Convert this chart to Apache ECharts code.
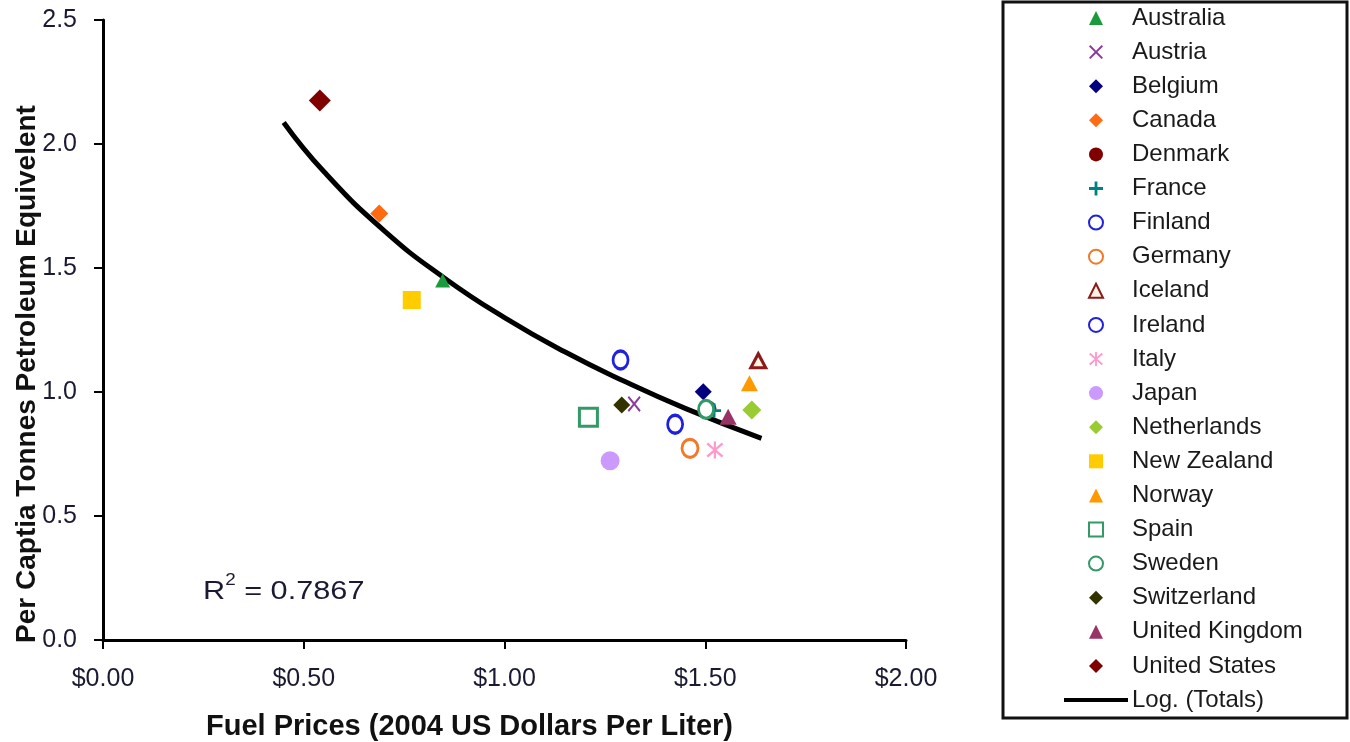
<!DOCTYPE html>
<html>
<head>
<meta charset="utf-8">
<title>Fuel prices vs consumption</title>
<script src="https://cdn.jsdelivr.net/npm/echarts@6/dist/echarts.min.js"></script>
<style>
  html, body { margin: 0; padding: 0; background: #fff; }
  #main { width: 1350px; height: 742px; }
</style>
</head>
<body>
<div id="main"></div>
<script>
  // countries in legend order
  var countries = ['Australia', 'Austria', 'Belgium', 'Canada', 'Denmark', 'France', 'Finland',
    'Germany', 'Iceland', 'Ireland', 'Italy', 'Japan', 'Netherlands', 'New Zealand', 'Norway',
    'Spain', 'Sweden', 'Switzerland', 'United Kingdom', 'United States'];
  // fuel price, 2004 US dollars per liter
  var prices = [0.846, 1.323, 1.495, 0.688, 1.509, 1.522, 1.425,
    1.462, 1.632, 1.289, 1.524, 1.263, 1.616, 0.769, 1.610,
    1.209, 1.502, 1.292, 1.557, 0.540];
  // per capita tonnes petroleum equivalent
  var consumption = [1.45, 0.952, 1.001, 1.720, 0.934, 0.925, 0.870,
    0.773, 1.126, 1.129, 0.766, 0.723, 0.927, 1.371, 1.035,
    0.898, 0.930, 0.948, 0.900, 2.175];
  // logarithmic trend line "Log. (Totals)"
  var trendX = [0.45, 0.55, 0.70, 0.85, 1.00, 1.15, 1.30, 1.45, 1.64];
  var trendY = [2.087, 1.889, 1.651, 1.460, 1.300, 1.162, 1.042, 0.934, 0.813];
  var xTicks = [0, 0.5, 1, 1.5, 2];
  var yTicks = [0, 0.5, 1, 1.5, 2, 2.5];

  // path symbols so the legend keeps their shape
  var tri = 'path://M5,0 L10,10 L0,10 Z';
  var dia = 'path://M5,0 L10,5 L5,10 L0,5 Z';
  var sq = 'path://M0,0 H10 V10 H0 Z';
  var cross = 'path://M0,1 L1,0 L5,4 L9,0 L10,1 L6,5 L10,9 L9,10 L5,6 L1,10 L0,9 L4,5 Z';
  var plus = 'path://M4,0 H6 V4 H10 V6 H6 V10 H4 V6 H0 V4 H4 Z';
  var star = 'path://M0,1.6 L1,0.6 L5,4.2 L9,0.6 L10,1.6 L6,5 L10,8.4 L9,9.4 L5,5.8 L1,9.4 L0,8.4 L4,5 Z M4.35,0 H5.65 V10 H4.35 Z';
  var bar = 'path://M0,0 H64 V4 H0 Z';

  // marker look per country
  var looks = {
    'Australia':      { symbol: tri, size: [15, 14], color: '#1a9a3a' },
    'Austria':        { symbol: cross, size: [13, 16], color: '#8e3a9e' },
    'Belgium':        { symbol: dia, size: 17, color: '#000080' },
    'Canada':         { symbol: dia, size: 18, color: '#ff6a13' },
    'Denmark':        { symbol: 'circle', size: 15, color: '#800000' },
    'France':         { symbol: plus, size: 14, color: '#008080' },
    'Finland':        { symbol: 'circle', size: [15, 18], color: '#fff', border: '#1f1fe0' },
    'Germany':        { symbol: 'circle', size: [16, 18], color: '#fff', border: '#f07a2a' },
    'Iceland':        { symbol: tri, size: [15, 14], color: '#fff3e0', border: '#8b1a1a' },
    'Ireland':        { symbol: 'circle', size: [15, 18], color: '#fff', border: '#2020e0' },
    'Italy':          { symbol: star, size: 17, color: '#ff99cc' },
    'Japan':          { symbol: 'circle', size: 19, color: '#cc99ff' },
    'Netherlands':    { symbol: dia, size: 19, color: '#99cc33' },
    'New Zealand':    { symbol: sq, size: 18, color: '#ffcc00' },
    'Norway':         { symbol: tri, size: [17, 16], color: '#ff9900' },
    'Spain':          { symbol: sq, size: 18, color: '#fff', border: '#339966' },
    'Sweden':         { symbol: 'circle', size: [15, 18], color: '#fff', border: '#339966' },
    'Switzerland':    { symbol: dia, size: 17, color: '#333300' },
    'United Kingdom': { symbol: tri, size: [17, 16], color: '#993366' },
    'United States':  { symbol: dia, size: 22, color: '#800000' }
  };

  var font = '"Liberation Sans", Arial, sans-serif';
  var series = countries.map(function (name, i) {
    var lk = looks[name];
    var style = { color: lk.color, opacity: 1 };
    if (lk.border) {
      style.borderColor = lk.border;
      style.borderWidth = 3;
    }
    return {
      name: name,
      type: 'scatter',
      symbol: lk.symbol,
      symbolSize: lk.size,
      symbolKeepAspect: false,
      itemStyle: style,
      z: 3,
      data: [[prices[i], consumption[i]]]
    };
  });
  series.push({
    name: 'Log. (Totals)',
    type: 'line',
    smooth: true,
    symbol: 'none',
    z: 2,
    lineStyle: { color: '#000', width: 5 },
    itemStyle: { color: '#000' },
    data: trendX.map(function (x, i) { return [x, trendY[i]]; })
  });

  var legendData = countries.map(function (name) {
    var lk = looks[name];
    var style = { color: lk.color };
    if (lk.border) {
      style.borderColor = lk.border;
      style.borderWidth = 2;
    }
    return { name: name, icon: lk.symbol, itemStyle: style };
  });
  legendData.push({ name: 'Log. (Totals)', icon: bar, itemStyle: { color: '#000' } });

  var myChart = echarts.init(document.getElementById('main'));
  var option = {
    animation: false,
    backgroundColor: '#fff',
    textStyle: { fontFamily: font },
    grid: { left: 103, right: 444, top: 20, bottom: 102, containLabel: false, outerBoundsMode: 'none' },
    xAxis: {
      type: 'value',
      min: xTicks[0],
      max: xTicks[xTicks.length - 1],
      interval: 0.5,
      name: 'Fuel Prices (2004 US Dollars Per Liter)',
      nameLocation: 'middle',
      nameGap: 72,
      nameMoveOverlap: false,
      nameTextStyle: { fontFamily: font, fontSize: 29, fontWeight: 'bold', color: '#111', padding: [0, 70, 0, 0] },
      axisLine: { lineStyle: { color: '#000', width: 3 } },
      axisTick: { show: true, length: 9, lineStyle: { color: '#000', width: 2 } },
      axisLabel: {
        margin: 27,
        fontFamily: font,
        fontSize: 25,
        color: '#1a1a33',
        formatter: function (v) { return '$' + v.toFixed(2); }
      },
      splitLine: { show: false }
    },
    yAxis: {
      type: 'value',
      min: yTicks[0],
      max: yTicks[yTicks.length - 1],
      interval: 0.5,
      name: 'Per Captia Tonnes Petroleum Equivelent',
      nameLocation: 'middle',
      nameGap: 62,
      nameMoveOverlap: false,
      nameTextStyle: { fontFamily: font, fontSize: 28, fontWeight: 'bold', color: '#111', padding: [0, 88, 0, 0] },
      axisLine: { show: true, lineStyle: { color: '#000', width: 3 } },
      axisTick: { show: true, length: 9, lineStyle: { color: '#000', width: 2 } },
      axisLabel: {
        margin: 26,
        fontFamily: font,
        fontSize: 25,
        color: '#1a1a33',
        formatter: function (v) { return v.toFixed(1); }
      },
      splitLine: { show: false }
    },
    legend: {
      orient: 'vertical',
      left: 1064,
      top: 6,
      itemWidth: 64,
      itemHeight: 14,
      itemGap: 10.1,
      padding: 0,
      symbolKeepAspect: true,
      textStyle: { fontFamily: font, fontSize: 24, lineHeight: 24, color: '#1a1a1a', padding: [0, 0, 0, -1] },
      data: legendData
    },
    graphic: [
      {
        type: 'rect',
        shape: { x: 1003, y: 2, width: 344, height: 716 },
        style: { fill: 'none', stroke: '#111', lineWidth: 3 },
        silent: true
      },
      {
        type: 'text',
        x: 203,
        y: 573,
        scaleX: 1.18,
        style: {
          text: '{a|R}{s|2}{a| = 0.7867}',
          rich: {
            a: { fontFamily: font, fontSize: 26, lineHeight: 32, fill: '#1a1a33', verticalAlign: 'bottom' },
            s: { fontFamily: font, fontSize: 16, lineHeight: 17, fill: '#1a1a33', verticalAlign: 'top' }
          }
        },
        silent: true
      }
    ],
    series: series
  };
  myChart.setOption(option);
</script>
</body>
</html>
